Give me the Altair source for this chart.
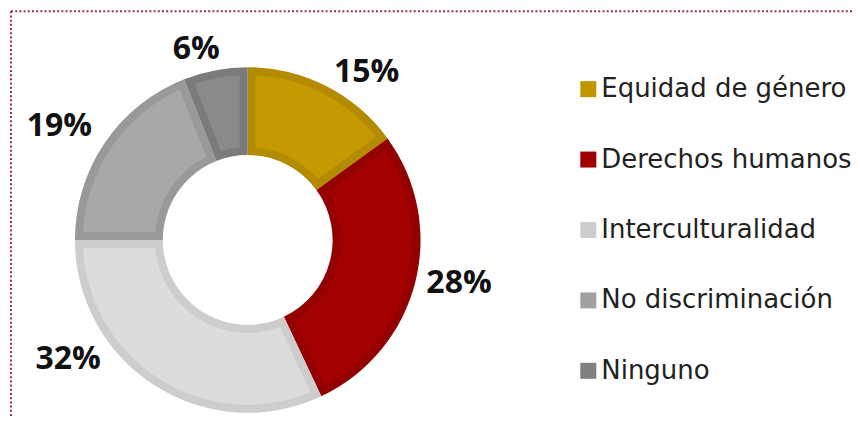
import altair as alt
import pandas as pd

categories = ["Equidad de género", "Derechos humanos", "Interculturalidad", "No discriminación", "Ninguno"]
values = [15, 28, 32, 19, 6]
labels = ["15%", "28%", "32%", "19%", "6%"]

fill_colors = ["#C49A00", "#A30000", "#DCDCDC", "#A8A8A8", "#8A8A8A"]
edge_colors = ["#B38B00", "#940000", "#CDCDCD", "#999999", "#7B7B7B"]
legend_colors = ["#BF9500", "#A00000", "#CCCCCC", "#A0A0A0", "#808080"]

# label offsets (styling) relative to the slice mid-angle anchor
label_offsets = {"15%": (26, 15), "28%": (13, -8), "32%": (-70, -54), "19%": (-19, 1), "6%": (-13, 10)}

df = pd.DataFrame({"cat": categories, "value": values, "label": labels, "idx": list(range(len(categories)))})

W, H = 845, 410
CX, CY = 240, 232

theta = alt.Theta("value:Q", stack=True)
order = alt.Order("idx:Q", sort="ascending")

base = alt.Chart(df)

edge = base.mark_arc(outerRadius=173, innerRadius=85, strokeWidth=0).encode(
    theta=theta,
    order=order,
    x=alt.value(CX), y=alt.value(CY),
    color=alt.Color("cat:N", scale=alt.Scale(domain=categories, range=edge_colors), legend=None),
)

inner = base.mark_arc(outerRadius=165, innerRadius=93, padAngle=0.0845, strokeWidth=0).encode(
    theta=theta,
    order=order,
    x=alt.value(CX), y=alt.value(CY),
    color=alt.Color("cat:N", scale=alt.Scale(domain=categories, range=fill_colors), legend=None),
)

legend_layer = base.mark_arc(outerRadius=1, innerRadius=0, opacity=0).encode(
    theta=theta,
    order=order,
    x=alt.value(CX), y=alt.value(CY),
    color=alt.Color(
        "cat:N",
        scale=alt.Scale(domain=categories, range=legend_colors),
        legend=alt.Legend(
            title=None, orient="none", legendX=568, legendY=68,
            symbolType="square", symbolSize=256, symbolStrokeWidth=0, symbolOpacity=1,
            labelFont="DejaVu Sans", labelFontSize=26, labelColor="#222222",
            labelOffset=0, rowPadding=44.5, labelLimit=400, padding=0,
        ),
    ),
)

# one label layer per slice: the stacked mid-angle anchor is computed over all
# slices, then only the slice's own label is kept
text_layers = []
for lab in labels:
    dx, dy = label_offsets[lab]
    t = base.transform_stack(
        stack="value", groupby=[], as_=["v0", "v1"], sort=[alt.SortField("idx", order="ascending")]
    ).transform_calculate(
        mid="(datum.v0 + datum.v1) / 2"
    ).transform_filter(
        alt.datum.label == lab
    ).mark_text(
        radius=205, dx=dx, dy=dy, font="Open Sans", fontWeight="bold", fontSize=32,
        color="#111111", align="center", baseline="middle",
    ).encode(
        theta=alt.Theta("mid:Q", scale=alt.Scale(domain=[0, sum(values)], range=[0, 6.283185307179586]), stack=False),
        x=alt.value(CX), y=alt.value(CY),
        text="label:N",
    )
    text_layers.append(t)

border_data = alt.Data(values=[{"a": 1}])
top_rule = alt.Chart(border_data).mark_rule(
    color="#A52A4A", strokeWidth=2, strokeDash=[2, 2.2]
).encode(x=alt.value(3), x2=alt.value(W), y=alt.value(3))
left_rule = alt.Chart(border_data).mark_rule(
    color="#A52A4A", strokeWidth=2, strokeDash=[2, 2.2]
).encode(x=alt.value(3), y=alt.value(3), y2=alt.value(H))

chart = alt.layer(
    top_rule, left_rule, edge, inner, legend_layer, *text_layers
).resolve_scale(color="independent", theta="independent").properties(
    width=W, height=H, padding=0
).configure_view(stroke=None)

chart.save("out.html", embed_options={"renderer": "svg", "actions": False})
